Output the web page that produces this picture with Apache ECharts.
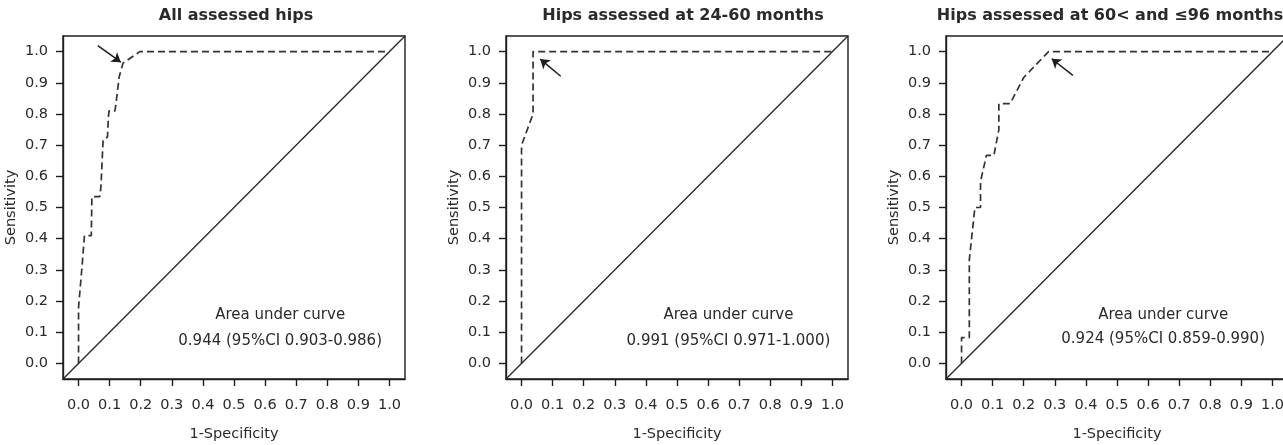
<!DOCTYPE html>
<html><head><meta charset="utf-8">
<script src="https://cdn.jsdelivr.net/npm/echarts@6/dist/echarts.min.js"></script>
<style>html,body{margin:0;padding:0;background:#fff}#c{width:1283px;height:445px}</style>
</head><body><div id="c"></div>
<script>
// ---- data ----
const titles = ["All assessed hips", "Hips assessed at 24-60 months", "Hips assessed at 60< and \u226496 months"];
const tickValues = [0, 0.1, 0.2, 0.3, 0.4, 0.5, 0.6, 0.7, 0.8, 0.9, 1.0];
const xName = "1-Specificity";
const yName = "Sensitivity";

const fpr1 = [0, 0, 0.012, 0.019, 0.041, 0.043, 0.068, 0.072, 0.079, 0.093, 0.096, 0.098, 0.117, 0.12, 0.131, 0.143, 0.197, 1.0];
const tpr1 = [0, 0.18, 0.32, 0.41, 0.41, 0.535, 0.535, 0.565, 0.717, 0.726, 0.79, 0.81, 0.81, 0.83, 0.92, 0.963, 1.0, 1.0];

const fpr2 = [0, 0, 0.037, 0.037, 1.0];
const tpr2 = [0, 0.70, 0.80, 1.0, 1.0];

const fpr3 = [0, 0, 0.025, 0.025, 0.043, 0.061, 0.061, 0.08, 0.104, 0.12, 0.12, 0.156, 0.2, 0.28, 1.0];
const tpr3 = [0, 0.083, 0.083, 0.333, 0.5, 0.5, 0.583, 0.667, 0.667, 0.75, 0.833, 0.833, 0.917, 1.0, 1.0];

const refLine = [[-0.05, -0.05], [1.05, 1.05]];

// arrows: [tailX, tailY, tipX, tipY]
const arrows = [
  [0.062, 1.019, 0.136, 0.966],
  [0.126, 0.921, 0.06, 0.976],
  [0.358, 0.924, 0.29, 0.977]
];

const aucLabel = "Area under curve";
const aucText = ["0.944 (95%CI 0.903-0.986)", "0.991 (95%CI 0.971-1.000)", "0.924 (95%CI 0.859-0.990)"];
const aucPos = [[0.65, 0.152, 0.07], [0.667, 0.152, 0.07], [0.65, 0.152, 0.075]];

// ---- layout / style ----
const FONT = "DejaVu Sans";
const gridLefts = [63, 506, 946];
const titleCenters = [231, 678, 1105];
const GW = 342, GH = 343, GT = 36;
const axisColor = "#1e1e1e";
const textColor = "#2a2a2a";

const curves = [[fpr1, tpr1], [fpr2, tpr2], [fpr3, tpr3]];

const grid = [], xAxis = [], yAxis = [], series = [], title = [];
for (let i = 0; i < 3; i++) {
  grid.push({left: gridLefts[i], top: GT, width: GW, height: GH, show: true, borderColor: axisColor, borderWidth: 1.4,
    backgroundColor: "transparent", containLabel: false, outerBoundsMode: "none"});
  title.push({text: titles[i], left: titleCenters[i], top: 3, textAlign: "center",
    textStyle: {fontFamily: FONT, fontSize: 16, fontWeight: "bold", color: "#2a2a2a"}});
  const common = {
    gridIndex: i, type: "value", min: -0.05, max: 1.05,
    splitLine: {show: false},
    axisLine: {show: true, onZero: false, lineStyle: {color: axisColor, width: 1.4}},
    axisTick: {show: true, customValues: tickValues, length: 7, inside: false, lineStyle: {color: axisColor, width: 1.4}},
    axisLabel: {customValues: tickValues, formatter: v => v.toFixed(1), fontFamily: FONT, fontSize: 14.5, color: textColor},
    nameLocation: "middle",
    nameTextStyle: {fontFamily: FONT, fontSize: 14.5, color: textColor}
  };
  xAxis.push(Object.assign({}, common, {name: xName, nameGap: 48, axisLabel: Object.assign({}, common.axisLabel, {margin: 19})}));
  yAxis.push(Object.assign({}, common, {name: yName, nameGap: 44, nameRotate: 90, axisLabel: Object.assign({}, common.axisLabel, {margin: 15})}));

  series.push({type: "line", xAxisIndex: i, yAxisIndex: i, data: refLine, symbol: "none", silent: true,
    lineStyle: {color: "#262626", width: 1.3, type: "solid"}, animation: false});
  const [fx, ty] = curves[i];
  series.push({type: "line", xAxisIndex: i, yAxisIndex: i, data: fx.map((x, k) => [x, ty[k]]), symbol: "none",
    lineStyle: {color: "#333", width: 1.7, type: [7, 4]}, animation: false});
  const a = arrows[i];
  series.push({type: "lines", coordinateSystem: "cartesian2d", xAxisIndex: i, yAxisIndex: i,
    data: [{coords: [[a[0], a[1]], [a[2], a[3]]]}], symbol: ["none", "arrow"], symbolSize: [0, 9],
    lineStyle: {color: "#1e1e1e", width: 1.5, opacity: 1}, animation: false});
  const p = aucPos[i];
  series.push({type: "scatter", xAxisIndex: i, yAxisIndex: i, symbolSize: 1, itemStyle: {color: "#fff", opacity: 0},
    data: [{value: [p[0], p[1]], t: aucLabel}, {value: [p[0], p[2]], t: aucText[i]}],
    label: {show: true, position: [0, 0], align: "center", verticalAlign: "middle", formatter: d => d.data.t,
      fontFamily: FONT, fontSize: 15, color: textColor, textBorderWidth: 0, opacity: 1},
    animation: false});
}

const chart = echarts.init(document.getElementById("c"), null, {renderer: "canvas"});
chart.setOption({animation: false, backgroundColor: "#fff", title, grid, xAxis, yAxis, series});
</script>
</body></html>
